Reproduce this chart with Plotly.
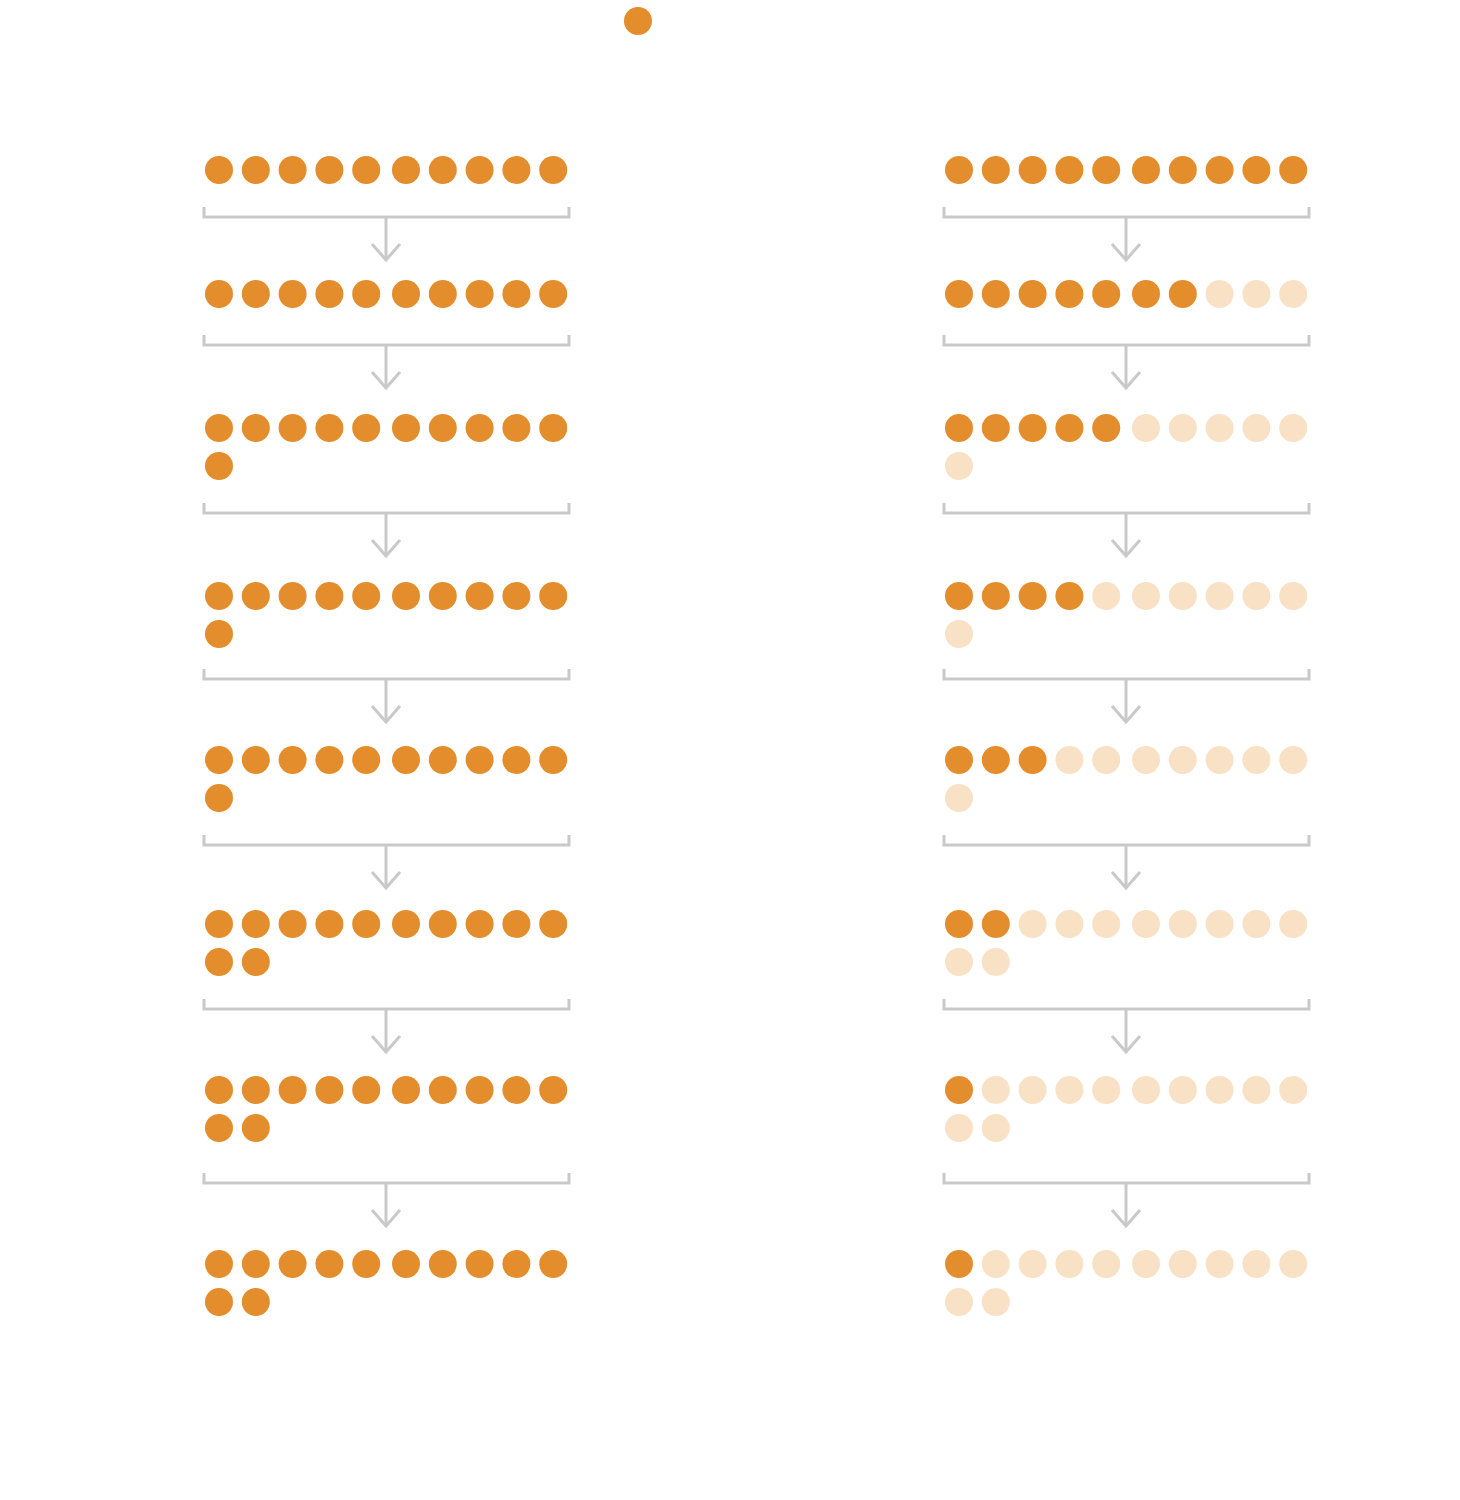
import plotly.graph_objects as go

# ---- data ----
stages = ["1", "2", "3", "4", "5", "6", "7", "8"]
left_totals = [10, 10, 11, 11, 11, 12, 12, 12]
left_active = [10, 10, 11, 11, 11, 12, 12, 12]
right_totals = [10, 10, 11, 11, 11, 12, 12, 12]
right_active = [10, 7, 5, 4, 3, 2, 1, 1]
top_count = 1

# ---- layout constants (pixels) ----
W, H = 1460, 1500
ORANGE = "#E38D2D"
LIGHT = "#F9E1C5"
GRAY = "#C9C9C9"
DOT = 28
row_y = [170, 294, 428, 596, 760, 924, 1090, 1264]
bracket_y = [217, 345, 513, 679, 845, 1009, 1183]
col_x0 = [219, 959]
step = 36.8
mid_gap = 3
line_gap = 38
per_line = 10


def dot_positions(n, x0, y0):
    xs, ys = [], []
    for k in range(n):
        i = k % per_line
        r = k // per_line
        xs.append(x0 + i * step + (mid_gap if i >= 5 else 0))
        ys.append(y0 + r * line_gap)
    return xs, ys


fig = go.Figure()

# top dot
fig.add_trace(go.Scatter(x=[638] * top_count, y=[21] * top_count, mode="markers",
                         marker=dict(size=DOT, color=ORANGE, line=dict(width=0)),
                         hoverinfo="skip", showlegend=False))

for col, (totals, active) in enumerate([(left_totals, left_active), (right_totals, right_active)]):
    x0 = col_x0[col]
    ax, ay, ix, iy = [], [], [], []
    for s, (tot, act) in enumerate(zip(totals, active)):
        xs, ys = dot_positions(tot, x0, row_y[s])
        ax += xs[:act]
        ay += ys[:act]
        ix += xs[act:]
        iy += ys[act:]
    fig.add_trace(go.Scatter(x=ix, y=iy, mode="markers",
                             marker=dict(size=DOT, color=LIGHT, line=dict(width=0)),
                             hoverinfo="skip", showlegend=False))
    fig.add_trace(go.Scatter(x=ax, y=ay, mode="markers",
                             marker=dict(size=DOT, color=ORANGE, line=dict(width=0)),
                             hoverinfo="skip", showlegend=False))

    # brackets and arrows
    bl = x0 - 15
    br = x0 + 350
    cx = x0 + 167
    lx, ly = [], []
    for by in bracket_y:
        lx += [bl, bl, br, br, None]
        ly += [by - 10, by, by, by - 10, None]
        lx += [cx, cx, None]
        ly += [by, by + 43, None]
        lx += [cx - 14, cx, cx + 14, None]
        ly += [by + 27, by + 43, by + 27, None]
    fig.add_trace(go.Scatter(x=lx, y=ly, mode="lines",
                             line=dict(color=GRAY, width=3),
                             hoverinfo="skip", showlegend=False))

fig.update_layout(
    width=W, height=H,
    margin=dict(l=0, r=0, t=0, b=0),
    paper_bgcolor="white", plot_bgcolor="white",
    xaxis=dict(range=[0, W], visible=False, fixedrange=True),
    yaxis=dict(range=[H, 0], visible=False, fixedrange=True),
)

fig.write_html("out.html")
